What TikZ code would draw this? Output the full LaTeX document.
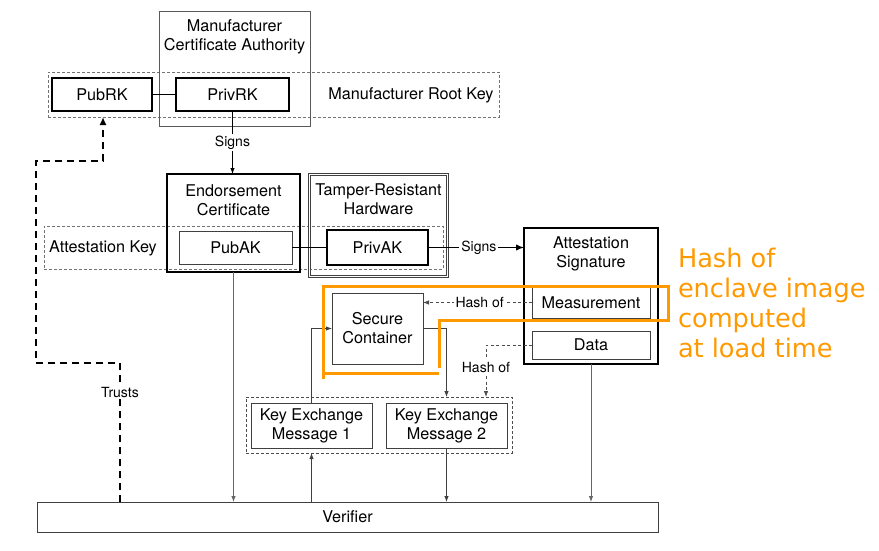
\documentclass[tikz,border=0pt]{standalone}
\usepackage{fontspec}
\setmainfont{TeX Gyre Heros}
\newfontfamily\orfont{DejaVu Sans}
\usetikzlibrary{arrows.meta,calc}
\definecolor{orng}{RGB}{255,153,0}
\begin{document}
\begin{tikzpicture}[x=1pt,y=-1pt,
 every node/.style={inner sep=0pt, outer sep=0pt},
 thinbox/.style={draw=black!75, line width=0.9pt},
 thickbox/.style={draw=black, line width=2.6pt},
 grpbox/.style={draw=black!55, line width=0.8pt, dash pattern=on 3pt off 2pt},
 lbl/.style={font=\fontsize{16.2}{19}\selectfont, align=center},
 small/.style={font=\fontsize{14}{16}\selectfont, fill=white, inner sep=2pt},
 conn/.style={draw=black!75, line width=0.9pt},
 arr/.style={conn, -{Latex[length=6pt,width=4.5pt]}},
 hashline/.style={draw=black!70, line width=0.8pt, dash pattern=on 3pt off 2.5pt, -{Latex[length=6pt,width=4.5pt]}},
 trust/.style={draw=black, line width=1.7pt, dash pattern=on 7pt off 5pt, -{Latex[length=8pt,width=7pt]}},
 orangeline/.style={draw=orng, line width=3pt}
]
\useasboundingbox (0,0) rectangle (879,551);

% Manufacturer root key group
\node[grpbox, minimum width=451pt, minimum height=45pt] (RootKey) at (273.5,94.5) {};
\node[thinbox, draw=black!65, minimum width=151pt, minimum height=115pt] (CA) at (234.5,68.5) {};
\node[lbl] (CAtxt) at (234.5,37) {Manufacturer\\Certificate Authority};
\node[thickbox, lbl, minimum width=100pt, minimum height=33pt] (PubRK) at (102,94.5) {PubRK};
\node[thickbox, lbl, minimum width=113pt, minimum height=33pt] (PrivRK) at (232.5,94.5) {PrivRK};
\node[lbl] (RKtxt) at (411,95) {Manufacturer Root Key};
\draw[conn, line width=1.2pt, draw=black] (PubRK) -- (PrivRK);

% Endorsement certificate and attestation key
\node[grpbox, minimum width=399pt, minimum height=43pt] (AttKey) at (243.5,247.5) {};
\node[thickbox, minimum width=133pt, minimum height=98pt] (Endorse) at (233.5,223) {};
\node[lbl] (Endtxt) at (233.5,200.5) {Endorsement\\Certificate};
\node[thinbox, lbl, minimum width=113pt, minimum height=33pt] (PubAK) at (235.5,247.5) {PubAK};
\node[lbl] (AKtxt) at (103,248) {Attestation Key};
\node[draw=black!75, double, double distance=1.8pt, line width=0.6pt, minimum width=138pt, minimum height=102pt] (Tamper) at (378.5,225.5) {};
\node[lbl] (Tamptxt) at (378.5,199.5) {Tamper-Resistant\\Hardware};
\node[thickbox, lbl, minimum width=101pt, minimum height=35pt] (PrivAK) at (377.5,247.5) {PrivAK};
\draw[conn, line width=1.2pt, draw=black] (PubAK) -- (PrivAK);

% Attestation signature
\node[thickbox, minimum width=134pt, minimum height=136pt] (AttSig) at (591,296) {};
\node[lbl] (ASigtxt) at (591,254) {Attestation\\Signature};
\node[thinbox, lbl, minimum width=118pt, minimum height=31pt] (Meas) at (591,302.5) {Measurement};
\node[thinbox, lbl, minimum width=118pt, minimum height=28pt] (Data) at (591,345) {Data};

% Secure container and key exchange
\node[thinbox, lbl, minimum width=91pt, minimum height=71pt] (SecC) at (377.5,328.5) {Secure\\Container};
\node[grpbox, draw=black!70, minimum width=266pt, minimum height=56pt] (KEgrp) at (379,425) {};
\node[thinbox, lbl, minimum width=121pt, minimum height=45pt] (KE1) at (311.5,425.5) {Key Exchange\\Message 1};
\node[thinbox, lbl, minimum width=121pt, minimum height=45pt] (KE2) at (446.5,425.5) {Key Exchange\\Message 2};

% Verifier
\node[thinbox, lbl, minimum width=621pt, minimum height=30pt] (Ver) at (347.5,517) {Verifier};

% Connectors
\draw[arr, draw=black] (PrivRK.south) -- node[small] {Signs} (PrivRK.south |- Endorse.north);
\draw[conn, line width=1.3pt, draw=black, -{Latex[length=8pt,width=6.5pt]}] (PrivAK.east) -- node[small, pos=0.53] {Signs} (AttSig.west |- PrivAK.east);
\draw[hashline] (Meas.west) -- node[small, pos=0.48] {Hash of} (SecC.east |- Meas.west);
\coordinate (h2) at (486,397);
\draw[hashline] (Data.west) -| (h2);
\node[small] (h2txt) at (486,367) {Hash of};
\draw[arr] (KE1.north) |- (SecC.west);
\draw[arr] (SecC.east) -| (KE2.north |- KEgrp.north);
\draw[arr, draw=black!60] (Endorse.south) -- (Endorse.south |- Ver.north);
\draw[arr] (Ver.north -| KE1) -- (KEgrp.south -| KE1);
\draw[arr] (KE2.south) -- (Ver.north -| KE2);
\draw[arr, draw=black!60] (AttSig.south) -- (Ver.north -| AttSig);

% Trusts
\coordinate (tr) at (120,363);
\draw[trust] (Ver.north -| tr) -- (tr) -- (36,363) -- (36,161) -- (103,161) -- (RootKey.south -| 103,0);
\node[small] (trtxt) at (120,392) {Trusts};

% Orange highlight
\draw[orangeline] (323,379) -- (323,286) -- (668,286) -- (668,320) -- (439,320) -- (439,368);
\draw[orangeline] (323,373) -- (439,373);
\node[font=\orfont\fontsize{25.6}{29.9}\selectfont, text=orng, align=left, anchor=north west] (note) at (678,248.5) {Hash of\\enclave image\\computed\\at load time};
\end{tikzpicture}
\end{document}
